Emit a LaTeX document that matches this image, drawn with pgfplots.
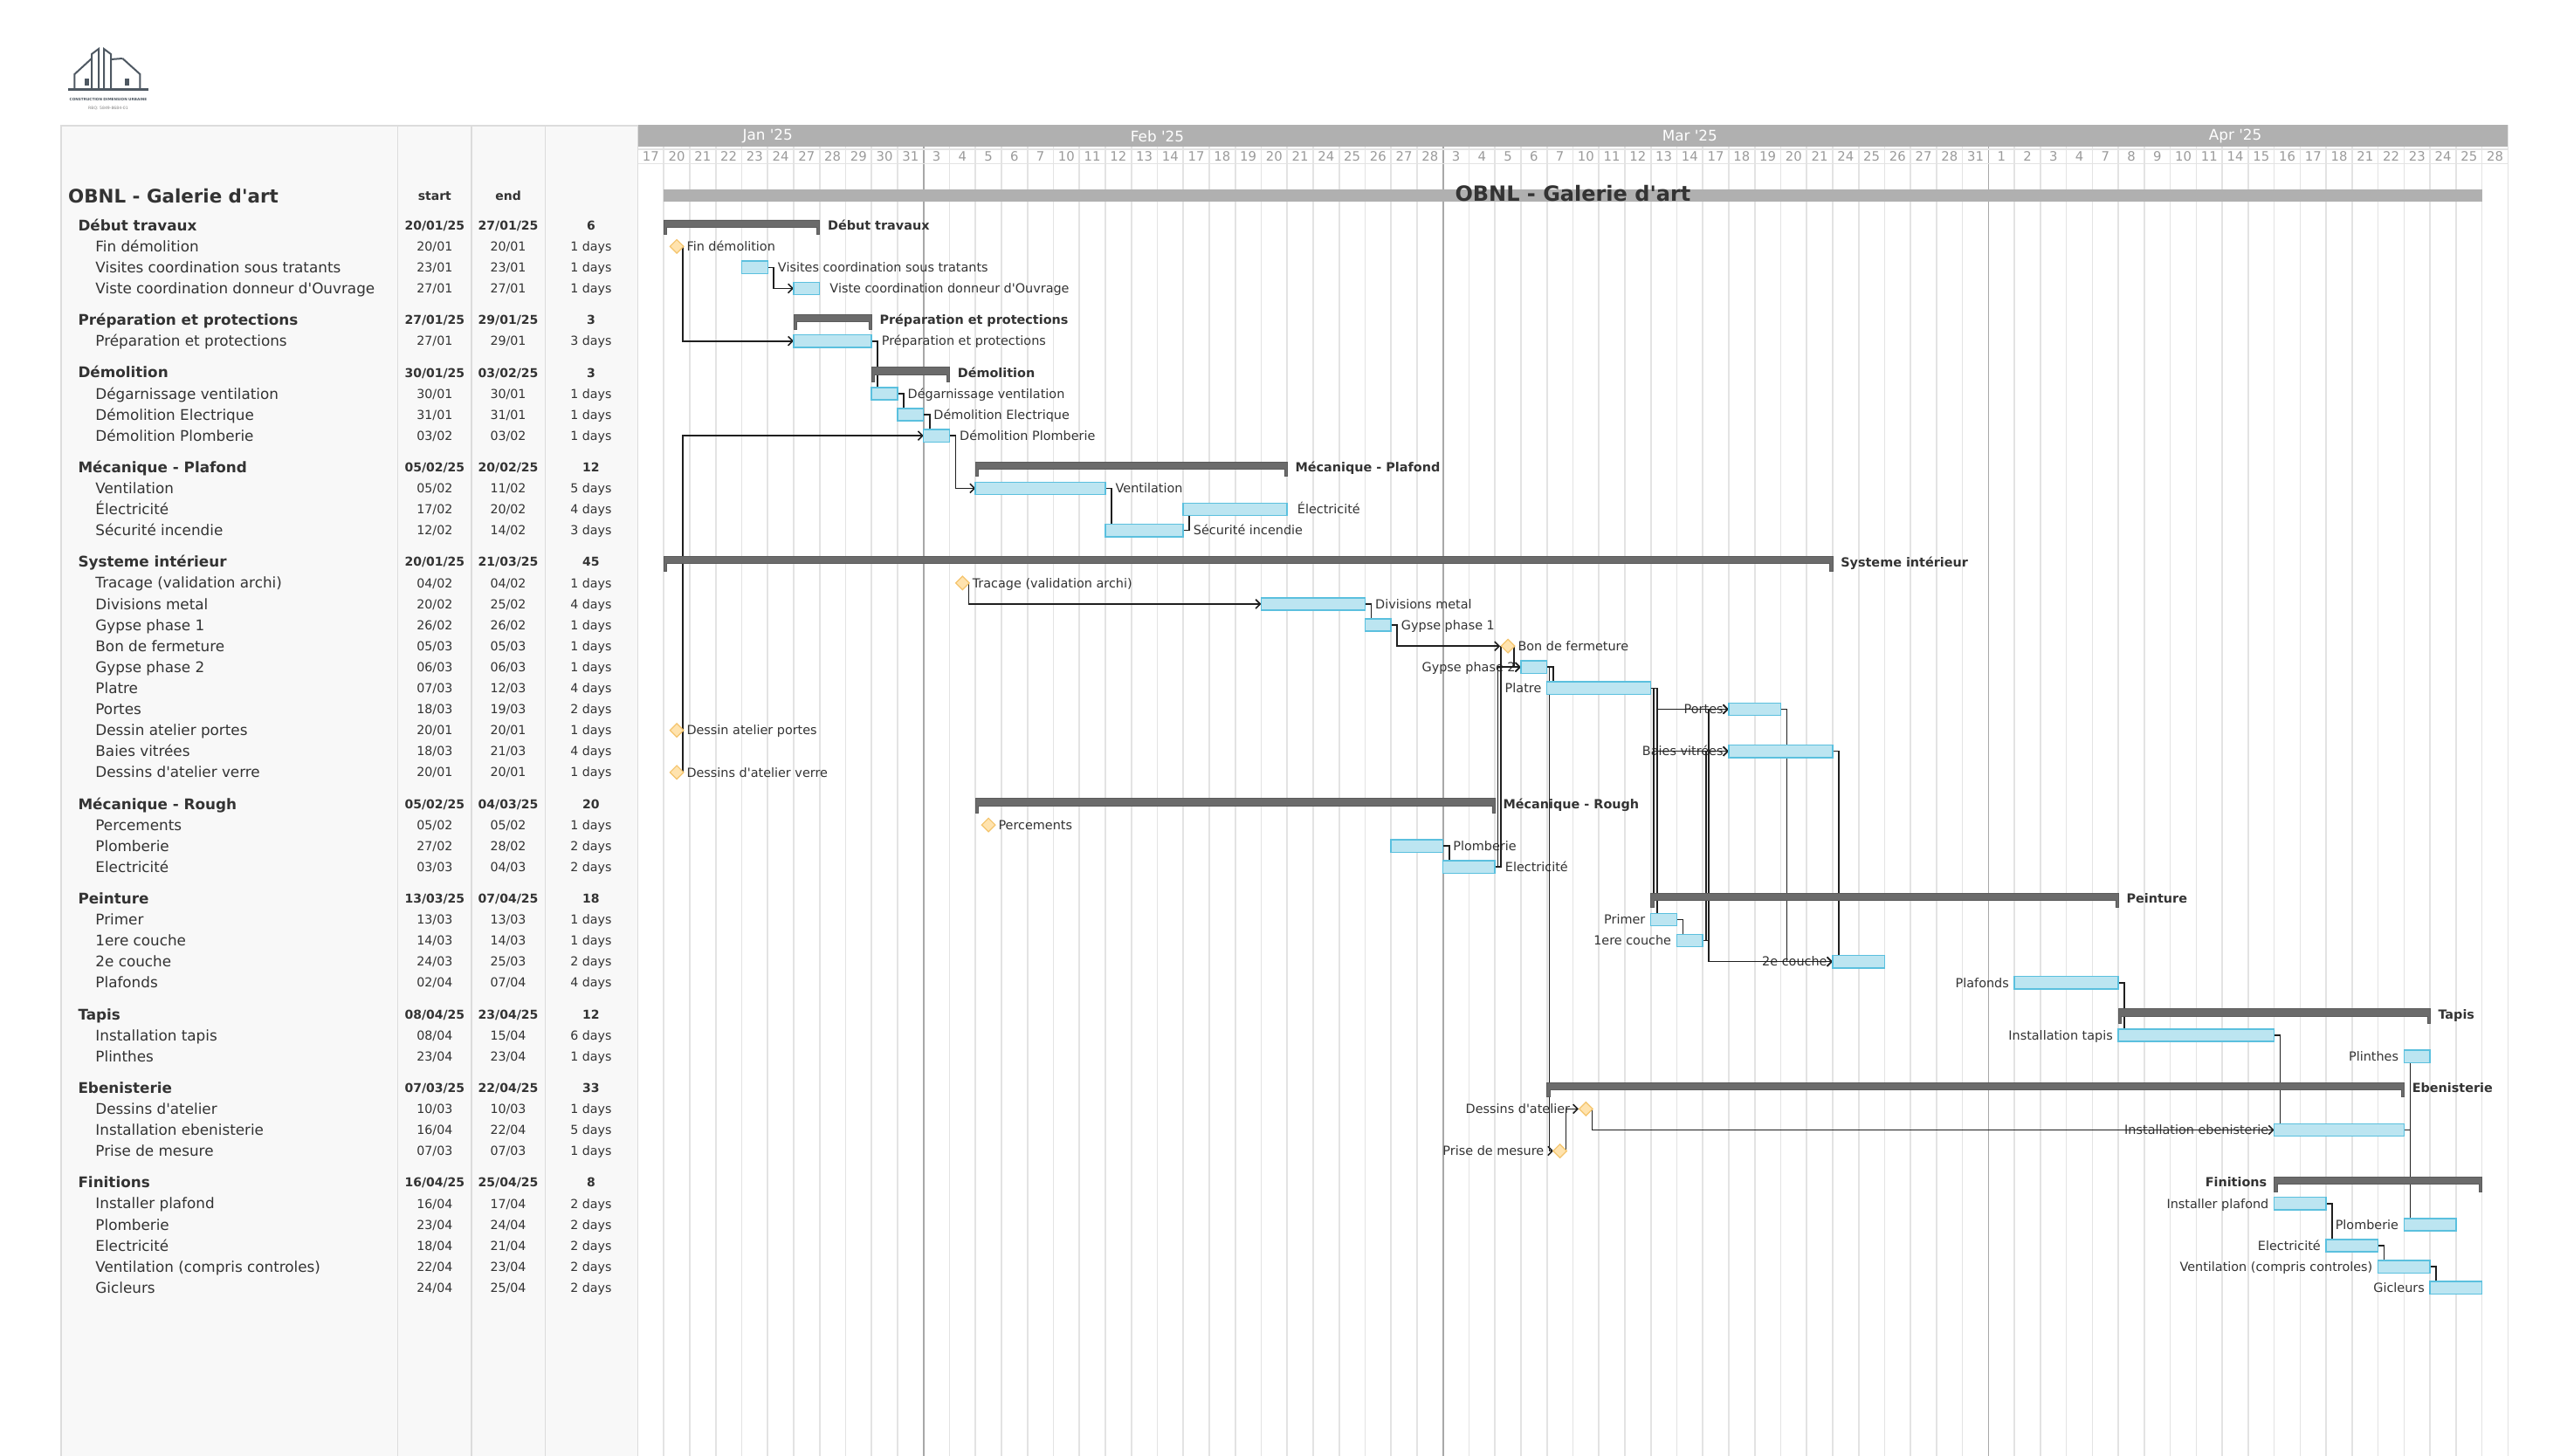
\documentclass[border=0pt]{standalone}
\usepackage{fontspec}
\setmainfont{DejaVu Sans}
\usepackage{pgfplots}
\pgfplotsset{compat=1.18}
\usetikzlibrary{arrows.meta}

\definecolor{txt}{HTML}{333333}
\definecolor{panelbg}{HTML}{F8F8F8}
\definecolor{panelline}{HTML}{DCDCDC}
\definecolor{monthbar}{HTML}{B0B0B0}
\definecolor{daytxt}{HTML}{9A9A9A}
\definecolor{gridc}{HTML}{E3E3E3}
\definecolor{monthline}{HTML}{A8A8A8}
\definecolor{barfill}{HTML}{BCE5F1}
\definecolor{barline}{HTML}{5BC0DE}
\definecolor{msfill}{HTML}{FFE3AE}
\definecolor{msline}{HTML}{F4C46C}
\definecolor{grpbar}{HTML}{6B6B6B}
\definecolor{titlebar}{HTML}{B0B0B0}
\definecolor{logoc}{HTML}{4E5862}

\newcommand\ap{\textquotesingle}

\tikzset{
  conn/.style={draw=black!88, line width=0.8pt},
  arr/.style={conn, -{Straight Barb[length=2.6pt,width=5.2pt]}},
  taskbar/.style={fill=barfill, draw=barline, line width=0.75pt},
  groupbar/.style={fill=grpbar, draw=grpbar!85!black, line width=0.3pt},
  gtxt/.style={font=\fontsize{7.2pt}{8pt}\selectfont, text=txt, inner sep=0pt, text height=5.25pt, text depth=0pt},
  gbld/.style={gtxt, font=\fontsize{7.2pt}{8pt}\selectfont\bfseries},
  lname/.style={font=\fontsize{8.4pt}{9pt}\selectfont, text=txt, inner sep=0pt, text height=6.1pt, text depth=0pt, anchor=west},
  lgname/.style={lname, font=\fontsize{8.4pt}{9pt}\selectfont\bfseries},
  ldate/.style={font=\fontsize{7.1pt}{8pt}\selectfont, text=txt, inner sep=0pt, text height=5.2pt, text depth=0pt, anchor=center},
  ldateb/.style={ldate, font=\fontsize{7pt}{8pt}\selectfont\bfseries},
}

% task bar: start, end, row
\newcommand\TB[3]{\pgfmathsetmacro\tbya{#3-0.297}\pgfmathsetmacro\tbyb{#3+0.297}%
  \edef\tbtmp{\noexpand\addplot[taskbar] coordinates {(#1,\tbya) (#2,\tbya) (#2,\tbyb) (#1,\tbyb)} --cycle;}\tbtmp}
% group bar: start, end, row
\newcommand\GB[3]{\pgfmathsetmacro\gya{#3-0.26}\pgfmathsetmacro\gyb{#3+0.083}\pgfmathsetmacro\gyc{#3+0.43}%
  \pgfmathsetmacro\gxa{#1+0.11}\pgfmathsetmacro\gxb{#2-0.11}%
  \edef\gbtmp{\noexpand\addplot[groupbar] coordinates {(#1,\gya) (#2,\gya) (#2,\gyc) (\gxb,\gyc) (\gxb,\gyb) (\gxa,\gyb) (\gxa,\gyc) (#1,\gyc)} --cycle;}\gbtmp}
\newcommand\CN[1]{\addplot[conn] coordinates {#1};}
\newcommand\CA[1]{\addplot[arr] coordinates {#1};}
\newcommand\RL[3]{\node[gtxt,anchor=west] at (axis cs:#1,#2) {#3};}
\newcommand\LL[3]{\node[gtxt,anchor=east] at (axis cs:#1,#2) {#3};}
\newcommand\RG[3]{\node[gbld,anchor=west] at (axis cs:#1,#2) {#3};}
\newcommand\LG[3]{\node[gbld,anchor=east] at (axis cs:#1,#2) {#3};}
\newcommand\Lgrp[5]{\node[lgname] at (axis cs:-21.56,#1) {#2};\node[ldateb] at (axis cs:-7.82,#1) {#3};\node[ldateb] at (axis cs:-4.99,#1) {#4};\node[ldateb] at (axis cs:-1.80,#1) {#5};}
\newcommand\Ltask[5]{\node[lname] at (axis cs:-20.89,#1) {#2};\node[ldate] at (axis cs:-7.82,#1) {#3};\node[ldate] at (axis cs:-4.99,#1) {#4};\node[ldate] at (axis cs:-1.80,#1) {#5 days};}

\begin{document}
\begin{tikzpicture}
\useasboundingbox (0,0) rectangle (1470pt,-834pt);
\begin{axis}[
  at={(365.25pt,-71.65pt)}, anchor=north west,
  scale only axis, width=1071pt, height=762.35pt,
  xmin=0, xmax=72, ymin=-3.266, ymax=60, y dir=reverse,
  clip=false,
  axis line style={draw=none}, tick style={draw=none},
  major tick length=0pt, minor tick length=0pt,
  xtick={11,31,52}, xticklabels={}, ytick=\empty,
  minor xtick={0,1,...,72},
  xmajorgrids, xminorgrids,
  major grid style={draw=monthline, line width=0.8pt},
  minor grid style={draw=gridc, line width=0.8pt},
]
% ---- left panel ----
\addplot[fill=panelbg, draw=panelline, line width=0.8pt] coordinates {(-22.2,-3.24) (0,-3.24) (0,60.5) (-22.2,60.5)} --cycle;
\addplot[panelline, line width=0.8pt] coordinates {(-9.244,-3.24) (-9.244,60.5)};
\addplot[panelline, line width=0.8pt] coordinates {(-6.403,-3.24) (-6.403,60.5)};
\addplot[panelline, line width=0.8pt] coordinates {(-3.57,-3.24) (-3.57,60.5)};
% ---- header ----
\addplot[fill=monthbar, draw=none] coordinates {(0,-3.266) (72,-3.266) (72,-2.2286) (0,-2.2286)} --cycle;
\addplot[gridc, line width=0.8pt] coordinates {(0,-2.129) (72,-2.129)};
\addplot[gridc, line width=0.8pt] coordinates {(0,-1.44) (72,-1.44)};
\node[font=\fontsize{8.4pt}{9pt}\selectfont, text=white, inner sep=0pt] at (axis cs:5,-2.747) {Jan \ap25};
\node[font=\fontsize{8.4pt}{9pt}\selectfont, text=white, inner sep=0pt] at (axis cs:20,-2.747) {Feb \ap25};
\node[font=\fontsize{8.4pt}{9pt}\selectfont, text=white, inner sep=0pt] at (axis cs:40.5,-2.747) {Mar \ap25};
\node[font=\fontsize{8.4pt}{9pt}\selectfont, text=white, inner sep=0pt] at (axis cs:61.5,-2.747) {Apr \ap25};
\addplot[draw=none, point meta=explicit symbolic, nodes near coords={\pgfplotspointmeta}, nodes near coords align={center},
  every node near coord/.append style={font=\fontsize{7.4pt}{8pt}\selectfont, text=daytxt, anchor=center, inner sep=0pt}]
  table[meta=l, row sep=\\] {x y l\\
0.5 -1.784 17\\ 1.5 -1.784 20\\ 2.5 -1.784 21\\ 3.5 -1.784 22\\ 4.5 -1.784 23\\ 5.5 -1.784 24\\ 6.5 -1.784 27\\ 7.5 -1.784 28\\ 8.5 -1.784 29\\ 9.5 -1.784 30\\ 10.5 -1.784 31\\
11.5 -1.784 3\\ 12.5 -1.784 4\\ 13.5 -1.784 5\\ 14.5 -1.784 6\\ 15.5 -1.784 7\\ 16.5 -1.784 10\\ 17.5 -1.784 11\\ 18.5 -1.784 12\\ 19.5 -1.784 13\\ 20.5 -1.784 14\\
21.5 -1.784 17\\ 22.5 -1.784 18\\ 23.5 -1.784 19\\ 24.5 -1.784 20\\ 25.5 -1.784 21\\ 26.5 -1.784 24\\ 27.5 -1.784 25\\ 28.5 -1.784 26\\ 29.5 -1.784 27\\ 30.5 -1.784 28\\
31.5 -1.784 3\\ 32.5 -1.784 4\\ 33.5 -1.784 5\\ 34.5 -1.784 6\\ 35.5 -1.784 7\\ 36.5 -1.784 10\\ 37.5 -1.784 11\\ 38.5 -1.784 12\\ 39.5 -1.784 13\\ 40.5 -1.784 14\\
41.5 -1.784 17\\ 42.5 -1.784 18\\ 43.5 -1.784 19\\ 44.5 -1.784 20\\ 45.5 -1.784 21\\ 46.5 -1.784 24\\ 47.5 -1.784 25\\ 48.5 -1.784 26\\ 49.5 -1.784 27\\ 50.5 -1.784 28\\ 51.5 -1.784 31\\
52.5 -1.784 1\\ 53.5 -1.784 2\\ 54.5 -1.784 3\\ 55.5 -1.784 4\\ 56.5 -1.784 7\\ 57.5 -1.784 8\\ 58.5 -1.784 9\\ 59.5 -1.784 10\\ 60.5 -1.784 11\\ 61.5 -1.784 14\\
62.5 -1.784 15\\ 63.5 -1.784 16\\ 64.5 -1.784 17\\ 65.5 -1.784 18\\ 66.5 -1.784 21\\ 67.5 -1.784 22\\ 68.5 -1.784 23\\ 69.5 -1.784 24\\ 70.5 -1.784 25\\ 71.5 -1.784 28\\
};
% ---- left panel text ----
\node[lgname, font=\fontsize{10.7pt}{11pt}\selectfont\bfseries, text height=7.8pt] at (axis cs:-21.94,0.12) {OBNL - Galerie d\ap art};
\node[ldateb] at (axis cs:-7.82,0.08) {start};
\node[ldateb] at (axis cs:-4.99,0.08) {end};
\Lgrp{1.5}{Début travaux}{20/01/25}{27/01/25}{6}
\Ltask{2.5}{Fin démolition}{20/01}{20/01}{1}
\Ltask{3.5}{Visites coordination sous tratants}{23/01}{23/01}{1}
\Ltask{4.5}{Viste coordination donneur d\ap Ouvrage}{27/01}{27/01}{1}
\Lgrp{6}{Préparation et protections}{27/01/25}{29/01/25}{3}
\Ltask{7}{Préparation et protections}{27/01}{29/01}{3}
\Lgrp{8.5}{Démolition}{30/01/25}{03/02/25}{3}
\Ltask{9.5}{Dégarnissage ventilation}{30/01}{30/01}{1}
\Ltask{10.5}{Démolition Electrique}{31/01}{31/01}{1}
\Ltask{11.5}{Démolition Plomberie}{03/02}{03/02}{1}
\Lgrp{13}{Mécanique - Plafond}{05/02/25}{20/02/25}{12}
\Ltask{14}{Ventilation}{05/02}{11/02}{5}
\Ltask{15}{Électricité}{17/02}{20/02}{4}
\Ltask{16}{Sécurité incendie}{12/02}{14/02}{3}
\Lgrp{17.5}{Systeme intérieur}{20/01/25}{21/03/25}{45}
\Ltask{18.5}{Tracage (validation archi)}{04/02}{04/02}{1}
\Ltask{19.5}{Divisions metal}{20/02}{25/02}{4}
\Ltask{20.5}{Gypse phase 1}{26/02}{26/02}{1}
\Ltask{21.5}{Bon de fermeture}{05/03}{05/03}{1}
\Ltask{22.5}{Gypse phase 2}{06/03}{06/03}{1}
\Ltask{23.5}{Platre}{07/03}{12/03}{4}
\Ltask{24.5}{Portes}{18/03}{19/03}{2}
\Ltask{25.5}{Dessin atelier portes}{20/01}{20/01}{1}
\Ltask{26.5}{Baies vitrées}{18/03}{21/03}{4}
\Ltask{27.5}{Dessins d\ap atelier verre}{20/01}{20/01}{1}
\Lgrp{29}{Mécanique - Rough}{05/02/25}{04/03/25}{20}
\Ltask{30}{Percements}{05/02}{05/02}{1}
\Ltask{31}{Plomberie}{27/02}{28/02}{2}
\Ltask{32}{Electricité}{03/03}{04/03}{2}
\Lgrp{33.5}{Peinture}{13/03/25}{07/04/25}{18}
\Ltask{34.5}{Primer}{13/03}{13/03}{1}
\Ltask{35.5}{1ere couche}{14/03}{14/03}{1}
\Ltask{36.5}{2e couche}{24/03}{25/03}{2}
\Ltask{37.5}{Plafonds}{02/04}{07/04}{4}
\Lgrp{39}{Tapis}{08/04/25}{23/04/25}{12}
\Ltask{40}{Installation tapis}{08/04}{15/04}{6}
\Ltask{41}{Plinthes}{23/04}{23/04}{1}
\Lgrp{42.5}{Ebenisterie}{07/03/25}{22/04/25}{33}
\Ltask{43.5}{Dessins d\ap atelier}{10/03}{10/03}{1}
\Ltask{44.5}{Installation ebenisterie}{16/04}{22/04}{5}
\Ltask{45.5}{Prise de mesure}{07/03}{07/03}{1}
\Lgrp{47}{Finitions}{16/04/25}{25/04/25}{8}
\Ltask{48}{Installer plafond}{16/04}{17/04}{2}
\Ltask{49}{Plomberie}{23/04}{24/04}{2}
\Ltask{50}{Electricité}{18/04}{21/04}{2}
\Ltask{51}{Ventilation (compris controles)}{22/04}{23/04}{2}
\Ltask{52}{Gicleurs}{24/04}{25/04}{2}
% ---- gantt labels ----
\RG{7.3}{1.5}{Début travaux}
\RL{1.87}{2.5}{Fin démolition}
\RL{5.38}{3.5}{Visites coordination sous tratants}
\RL{7.38}{4.5}{Viste coordination donneur d\ap Ouvrage}
\RG{9.3}{6}{Préparation et protections}
\RL{9.38}{7}{Préparation et protections}
\RG{12.3}{8.5}{Démolition}
\RL{10.38}{9.5}{Dégarnissage ventilation}
\RL{11.38}{10.5}{Démolition Electrique}
\RL{12.38}{11.5}{Démolition Plomberie}
\RG{25.3}{13}{Mécanique - Plafond}
\RL{18.38}{14}{Ventilation}
\RL{25.38}{15}{Électricité}
\RL{21.38}{16}{Sécurité incendie}
\RG{46.3}{17.5}{Systeme intérieur}
\RL{12.87}{18.5}{Tracage (validation archi)}
\RL{28.38}{19.5}{Divisions metal}
\RL{29.38}{20.5}{Gypse phase 1}
\RL{33.87}{21.5}{Bon de fermeture}
\LL{33.8}{22.5}{Gypse phase 2}
\LL{34.8}{23.5}{Platre}
\LL{41.8}{24.5}{Portes}
\RL{1.87}{25.5}{Dessin atelier portes}
\LL{41.8}{26.5}{Baies vitrées}
\RL{1.87}{27.5}{Dessins d\ap atelier verre}
\RG{33.3}{29}{Mécanique - Rough}
\RL{13.87}{30}{Percements}
\RL{31.38}{31}{Plomberie}
\RL{33.38}{32}{Electricité}
\RG{57.3}{33.5}{Peinture}
\LL{38.8}{34.5}{Primer}
\LL{39.8}{35.5}{1ere couche}
\LL{45.8}{36.5}{2e couche}
\LL{52.8}{37.5}{Plafonds}
\RG{69.3}{39}{Tapis}
\LL{56.8}{40}{Installation tapis}
\LL{67.8}{41}{Plinthes}
\RG{68.3}{42.5}{Ebenisterie}
\LL{35.9}{43.5}{Dessins d\ap atelier}
\LL{62.8}{44.5}{Installation ebenisterie}
\LL{34.9}{45.5}{Prise de mesure}
\LG{62.73}{47}{Finitions}
\LL{62.8}{48}{Installer plafond}
\LL{67.8}{49}{Plomberie}
\LL{64.8}{50}{Electricité}
\LL{66.8}{51}{Ventilation (compris controles)}
\LL{68.8}{52}{Gicleurs}
% ---- connectors ----
\CA{(1.5,2.5) (1.735,2.5) (1.735,7) (6,7)}
\CA{(5,3.5) (5.235,3.5) (5.235,4.5) (6,4.5)}
\CN{(9,7) (9.235,7) (9.235,9.2)}
\CN{(10,9.5) (10.235,9.5) (10.235,10.2)}
\CN{(11,10.5) (11.235,10.5) (11.235,11.2)}
\CA{(1.5,27.5) (1.735,27.5) (1.735,11.5) (11,11.5)}
\CN{(1.5,25.5) (1.735,25.5)}
\CA{(12,11.5) (12.235,11.5) (12.235,14) (13,14)}
\CN{(18,14) (18.235,14) (18.235,15.7)}
\CN{(21,16) (21.235,16) (21.235,15.3)}
\CA{(12.5,18.5) (12.735,18.5) (12.735,19.5) (24,19.5)}
\CN{(28,19.5) (28.235,19.5) (28.235,20.2)}
\CA{(29,20.5) (29.235,20.5) (29.235,21.5) (33.2,21.5)}
\CN{(33,32) (33.235,32) (33.235,21.5)}
\CA{(33.5,21.5) (33.735,21.5) (33.735,22.5) (34,22.5)}
\CA{(33,32) (33.11,32) (33.11,22.5) (34,22.5)}
\CN{(35,22.5) (35.235,22.5) (35.235,23.2)}
\CA{(35,22.5) (35.1,22.5) (35.1,45.5) (35.25,45.5)}
\CA{(35.5,45.5) (35.735,45.5) (35.735,43.5) (36.22,43.5)}
\CA{(39,23.5) (39.235,23.5) (39.235,24.5) (42,24.5)}
\CA{(39,23.5) (39.12,23.5) (39.12,26.5) (42,26.5)}
\CN{(39.12,26.5) (39.12,33.24)}
\CN{(39.235,24.5) (39.235,34.2)}
\CN{(40,34.5) (40.235,34.5) (40.235,35.2)}
\CA{(41,35.5) (41.235,35.5) (41.235,36.5) (46,36.5)}
\CA{(41.235,35.5) (41.235,24.5) (42,24.5)}
\CA{(41,35.5) (41.12,35.5) (41.12,26.5) (42,26.5)}
\CA{(44,24.5) (44.235,24.5) (44.235,36.5) (46,36.5)}
\CN{(46,26.5) (46.235,26.5) (46.235,36.2)}
\CN{(57,37.5) (57.235,37.5) (57.235,39.7)}
\CN{(63,40) (63.235,40) (63.235,44.2)}
\CA{(36.5,43.5) (36.735,43.5) (36.735,44.5) (63,44.5)}
\CN{(68,44.5) (68.235,44.5) (68.235,41.3)}
\CN{(68.235,44.5) (68.235,48.7)}
\CN{(65,48) (65.235,48) (65.235,49.7)}
\CN{(67,50) (67.235,50) (67.235,50.7)}
\CN{(69,51) (69.235,51) (69.235,51.7)}
\CN{(31,31) (31.235,31) (31.235,31.7)}
% ---- title bar ----
\addplot[fill=titlebar, draw=none] coordinates {(1,-0.19) (71,-0.19) (71,0.353) (1,0.353)} --cycle;
\node[font=\fontsize{12pt}{13pt}\selectfont\bfseries, text=txt, inner sep=0pt, text height=8.75pt, text depth=0pt] at (axis cs:36,0.0) {OBNL - Galerie d\ap art};
% ---- group bars ----
\GB{1}{7}{1.5}
\GB{6}{9}{6}
\GB{9}{12}{8.5}
\GB{13}{25}{13}
\GB{1}{46}{17.5}
\GB{13}{33}{29}
\GB{39}{57}{33.5}
\GB{57}{69}{39}
\GB{35}{68}{42.5}
\GB{63}{71}{47}
% ---- task bars ----
\TB{4}{5}{3.5}
\TB{6}{7}{4.5}
\TB{6}{9}{7}
\TB{9}{10}{9.5}
\TB{10}{11}{10.5}
\TB{11}{12}{11.5}
\TB{13}{18}{14}
\TB{21}{25}{15}
\TB{18}{21}{16}
\TB{24}{28}{19.5}
\TB{28}{29}{20.5}
\TB{34}{35}{22.5}
\TB{35}{39}{23.5}
\TB{42}{44}{24.5}
\TB{42}{46}{26.5}
\TB{29}{31}{31}
\TB{31}{33}{32}
\TB{39}{40}{34.5}
\TB{40}{41}{35.5}
\TB{46}{48}{36.5}
\TB{53}{57}{37.5}
\TB{57}{63}{40}
\TB{68}{69}{41}
\TB{63}{68}{44.5}
\TB{63}{65}{48}
\TB{68}{70}{49}
\TB{65}{67}{50}
\TB{67}{69}{51}
\TB{69}{71}{52}
% ---- milestones ----
\addplot[only marks, mark=square*, mark size=2.75pt, mark options={rotate=45, fill=msfill, draw=msline, line width=0.6pt}]
  coordinates {(1.5,2.5) (1.5,25.5) (1.5,27.5) (12.5,18.5) (13.5,30) (33.5,21.5) (35.5,45.5) (36.5,43.5)};
\end{axis}
% ---- logo ----
\begin{scope}[draw=logoc, line width=1pt, line join=miter]
  \draw[line width=1.4pt] (39pt,-51.4pt) -- (85.2pt,-51.4pt);
  \draw (42.7pt,-50.8pt) -- (42.7pt,-42.5pt) -- (52.5pt,-33.5pt);
  \draw (80.2pt,-50.8pt) -- (80.2pt,-42.5pt) -- (70.2pt,-33.5pt);
  \draw (52.5pt,-50.8pt) -- (52.5pt,-31pt) -- (56.5pt,-28pt) -- (56.5pt,-50.8pt);
  \draw (59.5pt,-50.8pt) -- (59.5pt,-28pt) -- (63.5pt,-31pt) -- (63.5pt,-50.8pt);
  \draw (63.5pt,-34pt) -- (70.2pt,-33.5pt);
  \fill[logoc] (48.3pt,-48.8pt) rectangle (51.2pt,-45pt);
  \fill[logoc] (71.3pt,-48.8pt) rectangle (74.2pt,-45pt);
\end{scope}
\node[font=\fontsize{2.1pt}{2.5pt}\selectfont\bfseries, text=logoc, inner sep=0pt] at (62pt,-57pt) {CONSTRUCTION DIMENSION URBAINE};
\node[font=\fontsize{2.3pt}{2.6pt}\selectfont, text=gray, inner sep=0pt] at (62pt,-62.2pt) {RBQ: 5849-8684-01};
\end{tikzpicture}
\end{document}
